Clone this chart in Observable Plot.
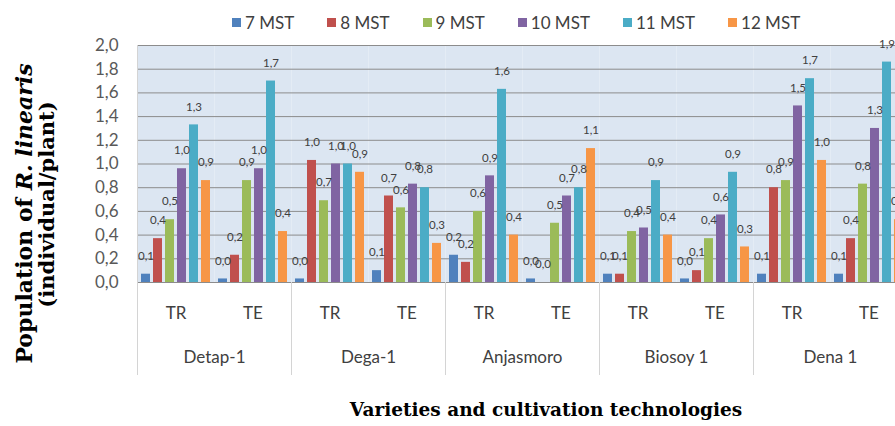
<!DOCTYPE html>
<html>
<head>
<meta charset="utf-8">
<script src="https://cdn.jsdelivr.net/npm/d3@7"></script>
<script src="https://cdn.jsdelivr.net/npm/@observablehq/plot@0.6"></script>
<style>
  html, body { margin: 0; padding: 0; background: #fff; overflow: hidden; }
  #wrap { position: relative; width: 895px; height: 426px; overflow: hidden; background: #fff; }
  #legend { height: 28px; box-sizing: border-box; padding-top: 16px; padding-left: 232px; display: flex; align-items: center; gap: 33px;
    font-family: Lato, "DejaVu Sans Condensed", sans-serif; font-size: 17px; color: #404040; white-space: nowrap; overflow: visible; }
  #legend .item { display: flex; align-items: center; gap: 4px; }
  #legend .sw { width: 9px; height: 9px; display: inline-block; }
  svg { max-width: none !important; }
</style>
</head>
<body>
<div id="wrap">
  <div id="legend"></div>
  <div id="chart"></div>
</div>
<script>
// ---- data ----
const varieties = ["Detap-1", "Dega-1", "Anjasmoro", "Biosoy 1", "Dena 1"];
const technologies = ["TR", "TE"];
const series = ["7 MST", "8 MST", "9 MST", "10 MST", "11 MST", "12 MST"];
const colors = ["#4F81BD", "#C0504D", "#9BBB59", "#8064A2", "#4BACC6", "#F79646"];
// order: Detap-1 TR, Detap-1 TE, Dega-1 TR, Dega-1 TE, Anjasmoro TR, Anjasmoro TE, Biosoy 1 TR, Biosoy 1 TE, Dena 1 TR, Dena 1 TE
const mst7  = [0.07, 0.03, 0.03, 0.10, 0.23, 0.03, 0.07, 0.03, 0.07, 0.07];
const mst8  = [0.37, 0.23, 1.03, 0.73, 0.17, 0.00, 0.07, 0.10, 0.80, 0.37];
const mst9  = [0.53, 0.86, 0.69, 0.63, 0.60, 0.50, 0.43, 0.37, 0.86, 0.83];
const mst10 = [0.96, 0.96, 1.00, 0.83, 0.90, 0.73, 0.46, 0.57, 1.49, 1.30];
const mst11 = [1.33, 1.70, 1.00, 0.80, 1.63, 0.80, 0.86, 0.93, 1.72, 1.86];
const mst12 = [0.86, 0.43, 0.93, 0.33, 0.40, 1.13, 0.40, 0.30, 1.03, 0.53];
const yTicks = [0, 0.2, 0.4, 0.6, 0.8, 1.0, 1.2, 1.4, 1.6, 1.8, 2.0];
const yTitle1 = "Population of ";
const yTitle1Italic = "R. linearis";
const yTitle2 = "(individual/plant)";
const xTitle = "Varieties and cultivation technologies";

// ---- build table ----
const seriesValues = [mst7, mst8, mst9, mst10, mst11, mst12];
const keys = [];
varieties.forEach(v => technologies.forEach(t => keys.push(v + "|" + t)));
const rows = [];
series.forEach((s, si) => {
  seriesValues[si].forEach((val, i) => {
    rows.push({key: keys[i], variety: varieties[Math.floor(i / 2)], tech: technologies[i % 2], series: s, value: val});
  });
});
const fmt = v => d3.format(".1f")(v).replace(".", ",");

const sans = 'Lato, "DejaVu Sans Condensed", sans-serif';
const serif = '"DejaVu Serif", serif';

// ---- legend ----
const legend = d3.select("#legend");
series.forEach((s, i) => {
  const it = legend.append("div").attr("class", "item");
  it.append("span").attr("class", "sw").style("background", colors[i]);
  it.append("span").text(s);
});

// ---- chart ----
const chart = Plot.plot({
  width: 907,
  height: 398,
  marginLeft: 137,
  marginRight: 0,
  marginTop: 17,
  marginBottom: 144,
  style: {fontFamily: sans, fontSize: "17px", color: "#404040", background: "transparent"},
  facet: {data: rows, x: "key"},
  fx: {domain: keys, padding: 0, axis: "bottom", label: null, tickSize: 0, tickPadding: 24, tickFormat: k => k.split("|")[1]},
  x: {domain: series, paddingInner: 0.22, paddingOuter: 0.26, axis: null},
  y: {domain: [0, 2], ticks: yTicks, tickFormat: fmt, tickSize: 0, tickPadding: 19, label: null},
  color: {domain: series, range: colors},
  marks: [
    Plot.frame({fill: "#dce6f2", stroke: null}),
    Plot.ruleY(yTicks, {stroke: "#8c8c8c", strokeWidth: 1}),
    Plot.barY(rows, {x: "series", y: "value", fill: "series"}),
    Plot.text(rows, {x: "series", y: "value", text: d => fmt(d.value), dy: -18, fontSize: 11.5, fill: "#404040"}),
    Plot.text(rows, {filter: d => d.tech === "TR" && d.series === series[0], text: "variety", frameAnchor: "bottom-right", textAnchor: "middle", dy: 80, fontSize: 17, fill: "#404040"})
  ]
});
document.getElementById("chart").appendChild(chart);

// ---- separators and titles (using Plot's scales) ----
const svg = d3.select(chart);
svg.selectAll('g[aria-label="y-axis tick label"] text, g[aria-label="y-axis"] text').attr("fill", "#595959");
const fxd = chart.scale("fx");
const yd = chart.scale("y");
const fxs = d3.scaleBand(fxd.domain, fxd.range).paddingInner(fxd.paddingInner || 0).paddingOuter(fxd.paddingOuter || 0).align(fxd.align == null ? 0.5 : fxd.align);
const ys = d3.scaleLinear(yd.domain, yd.range);
const sepX = varieties.map(v => fxs(v + "|TR"));
sepX.push(fxs(keys[keys.length - 1]) + fxs.bandwidth());
const sep = svg.append("g").attr("stroke", "#d4d4d4").attr("stroke-width", 1);
sepX.forEach((x, i) => {
  sep.append("line").attr("x1", x + 0.5).attr("x2", x + 0.5)
    .attr("y1", i === 0 ? ys(2) : ys(0)).attr("y2", ys(0) + 93);
});

const yt = svg.append("g")
  .attr("transform", "translate(24," + ((ys(0) + ys(2)) / 2 + 50) + ") rotate(-90)")
  .attr("font-family", serif).attr("font-weight", "bold")
  .attr("fill", "#000").attr("text-anchor", "middle");
const l1 = yt.append("text").attr("dy", "0.35em").attr("font-size", 22);
l1.append("tspan").text(yTitle1);
l1.append("tspan").attr("font-style", "italic").text(yTitle1Italic);
yt.append("text").attr("y", 23).attr("dy", "0.35em").attr("font-size", 21).text(yTitle2)
  .attr("transform", "translate(9,0)");

svg.append("text").attr("x", 546).attr("y", 388)
  .attr("font-family", serif).attr("font-weight", "bold").attr("font-size", 18.5)
  .attr("fill", "#000").attr("text-anchor", "middle").text(xTitle);
</script>
</body>
</html>
